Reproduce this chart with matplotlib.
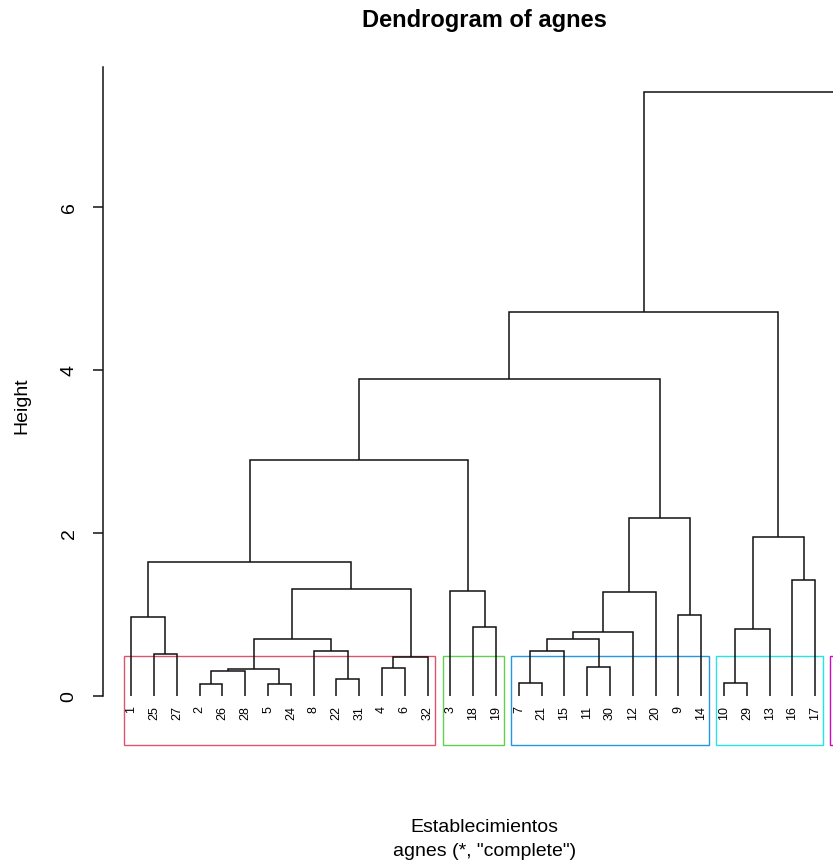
import matplotlib
matplotlib.use("Agg")
import matplotlib.pyplot as plt
from matplotlib.patches import Rectangle

plt.rcParams['font.family'] = ['Liberation Sans', 'DejaVu Sans']

# R-style merge matrix: negative = leaf label, positive = earlier merge (1-based)
merge_left = [-2, -5, -7, -10, -22, 1, 6, -4, -11, 8, -25, -8, 3, 13, 7, 14,
              4, -18, -1, -9, 16, -3, 15, -16, 19, 17, 21, 25, 28, 29, 30]
merge_right = [-26, -24, -21, -29, -31, -28, 2, -6, -30, -32, -27, 5, -15, 9,
               12, -12, -13, -19, 11, -14, -20, 18, 10, -17, 23, 24, 20, 22,
               27, 26, -23]
merge_height = [0.15, 0.15, 0.16, 0.16, 0.21, 0.31, 0.33, 0.34, 0.36, 0.48,
                0.52, 0.55, 0.55, 0.70, 0.70, 0.79, 0.82, 0.85, 0.97, 0.99,
                1.28, 1.29, 1.31, 1.42, 1.64, 1.95, 2.18, 2.90, 3.89, 4.71,
                7.41]

# rect.hclust boxes: cluster sizes (in leaf order), colours, box top height
cluster_sizes = [14, 3, 9, 5, 1]
cluster_colors = ["#DF536B", "#61D04F", "#2297E6", "#28E2E5", "#CD0BBC"]
box_top = 0.49

y_ticks = [0, 2, 4, 6]
title = "Dendrogram of agnes"
xlabel_1 = "Establecimientos"
xlabel_2 = 'agnes (*, "complete")'
ylabel = "Height"

# ---- compute leaf order ----
order = []
def traverse(node):
    if node < 0:
        order.append(-node)
    else:
        traverse(merge_left[node - 1])
        traverse(merge_right[node - 1])
traverse(len(merge_left))
n = len(order)
leaf_pos = {lab: i + 1 for i, lab in enumerate(order)}

W, H = 833, 865
fig = plt.figure(figsize=(W / 100, H / 100), dpi=100)
ax = fig.add_axes([103 / W, 120 / H, 763.3 / W, 678 / H])
ymin, ymax = -0.60, 7.72
ax.set_xlim(1 - 0.04 * (n - 1), n + 0.04 * (n - 1))
ax.set_ylim(ymin, ymax)

merge_x = {}
def node_xy(node):
    if node < 0:
        return leaf_pos[-node], 0.0
    return merge_x[node], merge_height[node - 1]

for i in range(len(merge_left)):
    x1, y1 = node_xy(merge_left[i])
    x2, y2 = node_xy(merge_right[i])
    h = merge_height[i]
    ax.plot([x1, x1, x2, x2], [y1, h, h, y2], color="#111111", lw=1.1,
            solid_joinstyle="miter", solid_capstyle="butt")
    merge_x[i + 1] = (x1 + x2) / 2

# leaf labels (only those that fall inside the visible canvas)
for lab in order:
    px = ax.transData.transform((leaf_pos[lab], 0))[0]
    if px + 6 > W:
        continue
    ax.text(leaf_pos[lab], -0.12, str(lab), rotation=90, ha="center",
            va="top", fontsize=9, color="black")

# boxes
start = 1
for size, col in zip(cluster_sizes, cluster_colors):
    left = start - 0.34
    right = start + size - 1 + 0.33
    ax.add_patch(Rectangle((left, ymin), right - left, box_top - ymin,
                           fill=False, edgecolor=col, lw=1.0, clip_on=False))
    start += size

for s in ["top", "right", "bottom"]:
    ax.spines[s].set_visible(False)
ax.spines["left"].set_bounds(0, ymax)
ax.spines["left"].set_linewidth(1.1)
ax.spines["left"].set_color("#111111")
ax.set_xticks([])
ax.set_yticks(y_ticks)
ax.set_yticklabels([str(t) for t in y_ticks])
ax.tick_params(axis="y", length=7.2, width=1.1, pad=11, labelsize=14,
               color="#111111")
for t in ax.get_yticklabels():
    t.set_rotation(90)
    t.set_va("center")

fig.text(484.5 / W, 1 - 20 / H, title, ha="center", va="center",
         fontsize=17, fontweight="bold")
fig.text(22 / W, 1 - 406 / H, ylabel, rotation=90, ha="center", va="center",
         fontsize=14)
fig.text(484.5 / W, 1 - 828 / H, xlabel_1, ha="center", va="center",
         fontsize=14)
fig.text(484.5 / W, 1 - 852 / H, xlabel_2, ha="center", va="center",
         fontsize=14)

fig.savefig("out.png", dpi=100)
